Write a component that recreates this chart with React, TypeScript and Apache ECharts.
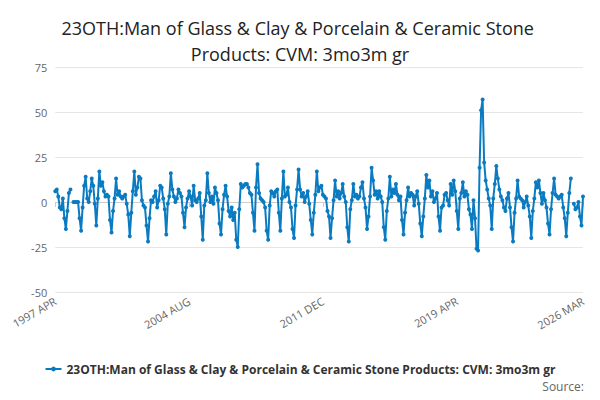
import React, { useEffect, useRef } from "react";
import * as echarts from "echarts";

const TITLE = "23OTH:Man of Glass & Clay & Porcelain & Ceramic Stone Products: CVM: 3mo3m gr";
const MONTHS = ["JAN","FEB","MAR","APR","MAY","JUN","JUL","AUG","SEP","OCT","NOV","DEC"];
const SHOWN = ["1997 APR", "2004 AUG", "2011 DEC", "2019 APR", "2026 MAR"];
// yearly rows Apr..Mar
const y97 = [6, 7, 3, -3, -4, 2, -9, -15, -5, 5, 7, null];
const y98 = [0, 0, 0, 0, -9, -16, -3, 9, 14, 2, 0, 6];
const y99 = [13, 9, -1, -13, 2, 17, 9, 11, 6, 3, 4, 3];
const y00 = [-10, -17, -5, 2, 13, 4, 6, 3, 2, 3, 4, -1];
const y01 = [-7, -19, -6, 6, 17, 4, 8, 14, 13, 1, -2, -3];
const y02 = [-13, -22, -9, 1, 0, 3, 6, -3, 1, 9, 8, 2];
const y03 = [-4, -18, -1, 3, 16, 7, 3, 0, 2, 7, 5, 3];
const y04 = [-6, -14, -3, 2, 6, 3, -2, 9, 1, 0, 2, 5];
const y05 = [-8, -21, -2, 1, 16, 5, 0, 3, -1, 8, 5, 1];
const y06 = [-12, -18, -4, 4, 9, 3, -5, -8, -3, -10, -6, -21];
const y07 = [-25, -4, 10, 8, 9, 10, 10, 8, 5, 4, -6, -16];
const y08 = [8, 21, 5, 2, 1, 0, -3, -16, -21, -2, 6, 5];
const y09 = [3, 6, 7, -6, -16, 2, 17, 3, 4, 8, 0, -3];
const y10 = [-15, -20, -2, 7, 18, 7, 3, 5, 0, 3, 6, -1];
const y11 = [-10, -18, -6, 4, 17, 6, 8, 9, 4, 3, 2, -5];
const y12 = [-8, -20, -9, 1, 12, 3, 6, 2, 5, 10, 3, 0];
const y13 = [-14, -22, -4, 1, 10, 3, 4, 2, 3, 8, 11, 2];
const y14 = [-3, -15, -8, 3, 19, 12, 4, 6, 2, 6, 3, 0];
const y15 = [-14, -21, -5, 2, 14, 3, 7, 5, 10, 4, 1, 3];
const y16 = [-10, -18, -6, 1, 8, 3, 5, 4, -2, 3, 6, -1];
const y17 = [-12, -19, -8, 2, 15, 8, 12, 3, 6, 0, 2, 5];
const y18 = [-8, -16, -3, -2, 4, 5, 1, -2, 10, 4, 12, 6];
const y19 = [-5, -15, 2, 5, 11, 3, 6, 4, -4, -7, -15, 1];
const y20 = [-9, -26, -27, 19, 51, 57, 22, 12, 7, 2, -2, -15];
const y21 = [2, 10, 20, 13, 7, 3, 1, -3, -5, 2, 5, -3];
const y22 = [-14, -22, -6, 2, 12, 3, 2, 1, -3, 0, 3, -2];
const y23 = [-8, -20, -5, 2, 11, 8, 12, 5, -1, 5, 1, -3];
const y24 = [-12, -18, -4, 5, 13, 4, 3, 2, 3, 4, -3, -9];
const y25 = [-19, -6, 5, 13, null, -1, -4, -3, 0, -8, -13, 3];
const VALUES = [y97,y98,y99,y00,y01,y02,y03,y04,y05,y06,y07,y08,y09,y10,y11,y12,y13,y14,y15,y16,y17,y18,y19,y20,y21,y22,y23,y24,y25].flat();
const CATEGORIES = VALUES.map((_, i) => {
  const m = 3 + i;
  return `${1997 + Math.floor(m / 12)} ${MONTHS[m % 12]}`;
});

export default function App() {
  const ref = useRef<HTMLDivElement>(null);
  useEffect(() => {
    const chart = echarts.init(ref.current!, undefined, { renderer: "svg" });
    chart.setOption({
      animation: false,
      title: { text: TITLE, left: "center", top: 2, textStyle: { fontFamily: "Open Sans", fontSize: 18, fontWeight: "normal", color: "#222", width: 540, overflow: "break", lineHeight: 26 } },
      grid: { left: 35, right: 9, top: 59, bottom: 100 },
      xAxis: {
        type: "category", data: CATEGORIES, boundaryGap: false,
        axisLine: { lineStyle: { color: "#ccc" } },
        axisTick: { show: true, interval: (i: number, v: string) => SHOWN.includes(v), lineStyle: { color: "#ccc" } },
        axisLabel: { interval: (i: number, v: string) => SHOWN.includes(v), rotate: 30, color: "#666", fontFamily: "Open Sans", fontSize: 11 },
      },
      yAxis: {
        type: "value", min: -50, max: 75, interval: 25,
        axisLabel: { color: "#666", fontFamily: "Open Sans", fontSize: 11 },
        splitLine: { lineStyle: { color: "#e6e6e6" } },
      },
      legend: { bottom: 12, left: "center", itemWidth: 16, itemHeight: 6, textStyle: { fontFamily: "Open Sans", fontSize: 12, fontWeight: "bold", color: "#333" } },
      graphic: [{ type: "text", right: 8, bottom: 0, style: { text: "Source:", fontFamily: "Open Sans", fontSize: 12, fill: "#666" } }],
      series: [{
        name: TITLE, type: "line", data: VALUES, symbol: "circle", symbolSize: 4, showAllSymbol: true,
        lineStyle: { color: "#0a7bc1", width: 2 }, itemStyle: { color: "#0a7bc1" },
      }],
    });
    return () => chart.dispose();
  }, []);
  return <div ref={ref} style={{ width: 584, height: 384 }} />;
}
